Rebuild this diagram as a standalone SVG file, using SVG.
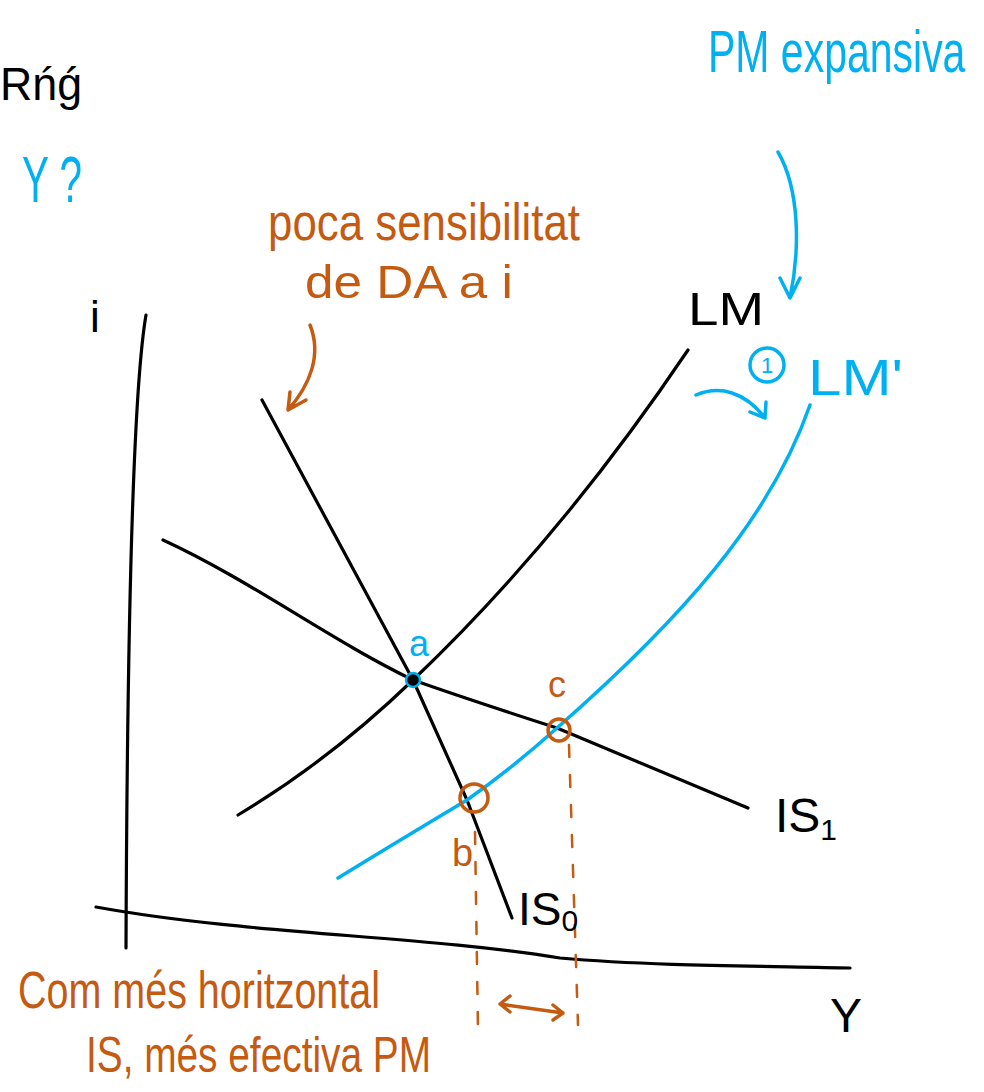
<svg xmlns="http://www.w3.org/2000/svg" width="984" height="1092" viewBox="0 0 984 1092">
<style>
.k{fill:none;stroke:#000;stroke-width:3.2;stroke-linecap:round;stroke-linejoin:round}
.b{fill:none;stroke:#00B0F0;stroke-width:3.5;stroke-linecap:round;stroke-linejoin:round}
.o{fill:none;stroke:#C55A11;stroke-width:3.5;stroke-linecap:round;stroke-linejoin:round}
.od{fill:none;stroke:#C55A11;stroke-width:2.5;stroke-dasharray:12 18;stroke-linecap:round}
.tk{fill:#000;font-family:"Liberation Sans",sans-serif}
.tb{fill:#00B0F0;font-family:"Liberation Sans",sans-serif}
.to{fill:#C55A11;font-family:"Liberation Sans",sans-serif}
</style>
<rect width="984" height="1092" fill="#fff"/>
<g id="axes">
<path class="k" d="M146,315 Q128,420 126,948"/>
<path class="k" d="M96,907 C 250,935 420,935 560,958 C 650,966 760,966 850,968"/>
</g>
<g id="connectors">
<path class="k" d="M238,815 Q330,760 413,680 Q560,540 688,350"/>
<path class="k" d="M262,400 L413,680 Q440,740 467,800 L512,918"/>
<path class="k" d="M163,540 C250,580 330,640 413,680 Q470,700 557,728 L748,808"/>
<path class="b" d="M338,878 Q400,840 467,800 Q510,770 557,728 C680,620 770,520 810,405"/>
<path class="b" d="M778,152 C800,190 800,250 790,298 M780,278 L790,298 L800,278"/>
<path class="b" d="M696,395 C720,385 745,392 765,418 M750,412 L765,418 L766,402"/>
<path class="o" d="M310,325 C322,355 310,385 288,410 M290,392 L288,410 L306,400"/>
<path class="od" d="M475,832 L478,1030"/>
<path class="od" d="M569,745 L578,1025"/>
<path class="o" d="M500,1004 L563,1013 M510,996 L500,1004 L510,1012 M553,1005 L563,1013 L553,1020"/>
</g>
<g id="points">
<circle cx="413" cy="680" r="7" fill="#000" stroke="#00B0F0" stroke-width="2.5"/>
<circle cx="559" cy="730" r="11" class="o"/>
<circle cx="474" cy="798" r="14" class="o"/>
<circle cx="767" cy="365" r="17" class="b"/>
<text x="767" y="373" class="tb" font-size="22" text-anchor="middle">1</text>
</g>
<g id="labels">
<text x="0" y="100" class="tk" font-size="46" textLength="82" lengthAdjust="spacingAndGlyphs">Rńǵ</text>
<text x="22" y="202" class="tb" font-size="64" textLength="60" lengthAdjust="spacingAndGlyphs">Y ?</text>
<text transform="translate(708,72) scale(1,1.45)" class="tb" font-size="41">PM expansiva</text>
<text x="268" y="240" class="to" font-size="52" textLength="312" lengthAdjust="spacingAndGlyphs">poca sensibilitat</text>
<text x="305" y="298" class="to" font-size="46" textLength="208" lengthAdjust="spacingAndGlyphs">de DA a i</text>
<text x="90" y="332" class="tk" font-size="44">i</text>
<text x="688" y="325" class="tk" font-size="46" textLength="76" lengthAdjust="spacingAndGlyphs">LM</text>
<text x="808" y="395" class="tb" font-size="50" textLength="95" lengthAdjust="spacingAndGlyphs">LM'</text>
<text x="409" y="656" class="tb" font-size="36">a</text>
<text x="548" y="697" class="to" font-size="36">c</text>
<text x="452" y="866" class="to" font-size="38">b</text>
<text x="518" y="925" class="tk" font-size="46">IS<tspan font-size="30" dy="6">0</tspan></text>
<text x="775" y="832" class="tk" font-size="48">IS<tspan font-size="30" dy="8">1</tspan></text>
<text x="830" y="1032" class="tk" font-size="48">Y</text>
<text x="18" y="1008" class="to" font-size="52" textLength="362" lengthAdjust="spacingAndGlyphs">Com més horitzontal</text>
<text x="86" y="1072" class="to" font-size="50" textLength="345" lengthAdjust="spacingAndGlyphs">IS, més efectiva PM</text>
</g>
</svg>
